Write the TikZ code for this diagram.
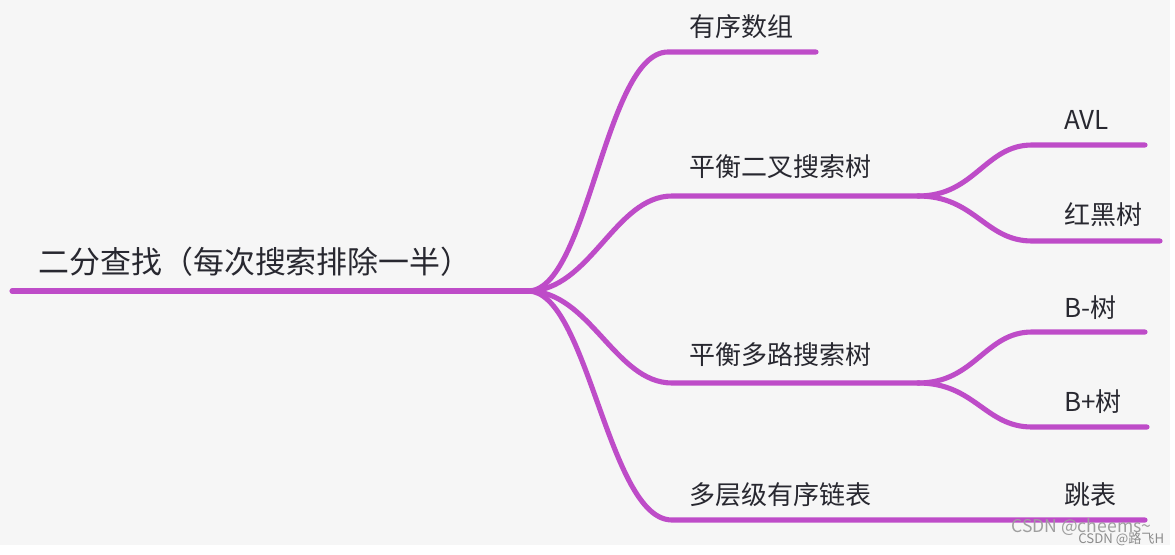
\documentclass[tikz,border=0pt]{standalone}
\usepackage{fontspec}
\setmainfont{Noto Sans CJK SC}
\usetikzlibrary{positioning}

\definecolor{mapline}{RGB}{190,76,200}
\definecolor{maptext}{RGB}{40,40,48}
\definecolor{mapbg}{RGB}{246,246,246}

\tikzset{
  branch/.style={line width=2.9pt,mapline,line cap=round},
  topic/.style={text=maptext,font=\fontsize{17.6pt}{17.6pt}\selectfont,inner sep=0pt},
  leaf/.style={text=maptext,font=\fontsize{14.8pt}{14.8pt}\selectfont,inner sep=0pt},
  wmark/.style={inner sep=0pt}
}

\begin{document}
\begin{tikzpicture}[x=0.02cm,y=-0.02cm]
  \useasboundingbox (0,0) rectangle (1175,554);
  \fill[white] (0,0) rectangle (1175,554);
  \fill[mapbg] (0,0) rectangle (1170,545);

  % root
  \node[topic] (root) at (255,262) {二分查找（每次搜索排除一半）};
  \coordinate (root-start) at (12,291);
  \coordinate (fork) at (528,291);
  \draw[branch] (root-start) -- (fork);

  % first level
  \node[leaf,anchor=west] (sorted) at (689,27) {有序数组};
  \node[leaf,anchor=west] (bst) at (689,167) {平衡二叉搜索树};
  \node[leaf,anchor=west] (mtree) at (689,355) {平衡多路搜索树};
  \node[leaf,anchor=west] (mlist) at (689,495) {多层级有序链表};

  \coordinate (sorted-in) at (668,52);
  \coordinate (sorted-end) at (816,52);
  \coordinate (bst-in) at (672,196);
  \coordinate (bst-fork) at (918,196);
  \coordinate (mtree-in) at (672,383);
  \coordinate (mtree-fork) at (918,383);
  \coordinate (mlist-in) at (672,520);
  \coordinate (mlist-end) at (1145,520);

  \draw[branch] (fork) .. controls (588,291) and (605,52) .. (sorted-in) -- (sorted-end);
  \draw[branch] (fork) .. controls (590,291) and (615,196) .. (bst-in) -- (bst-fork);
  \draw[branch] (fork) .. controls (590,291) and (615,383) .. (mtree-in) -- (mtree-fork);
  \draw[branch] (fork) .. controls (588,291) and (608,520) .. (mlist-in) -- (mlist-end);

  % second level
  \node[leaf,anchor=west] (avl) at (1064,120) {AVL};
  \node[leaf,anchor=west] (rbt) at (1064,215) {红黑树};
  \node[leaf,anchor=west] (btree) at (1064,308) {B-树};
  \node[leaf,anchor=west] (bplus) at (1064,402) {B+树};
  \node[leaf,anchor=west] (skip) at (1064,495) {跳表};

  \coordinate (avl-in) at (1032,145);
  \coordinate (avl-end) at (1145,145);
  \coordinate (rbt-in) at (1032,241);
  \coordinate (rbt-end) at (1160,241);
  \coordinate (btree-in) at (1032,332);
  \coordinate (btree-end) at (1145,332);
  \coordinate (bplus-in) at (1032,427);
  \coordinate (bplus-end) at (1147,427);

  \draw[branch] (bst-fork) .. controls (975,196) and (985,145) .. (avl-in) -- (avl-end);
  \draw[branch] (bst-fork) .. controls (975,196) and (985,241) .. (rbt-in) -- (rbt-end);
  \draw[branch] (mtree-fork) .. controls (975,383) and (985,332) .. (btree-in) -- (btree-end);
  \draw[branch] (mtree-fork) .. controls (975,383) and (985,427) .. (bplus-in) -- (bplus-end);

  % watermarks
  \node[wmark,anchor=west,text=gray!75,font=\fontsize{10pt}{10pt}\selectfont] (wm1) at (1011,527) {CSDN @cheems\textasciitilde};
  \node[wmark,anchor=west,text=gray!90,font=\fontsize{7.5pt}{7.5pt}\selectfont] (wm2) at (1078,539) {CSDN @路飞H};
\end{tikzpicture}
\end{document}
